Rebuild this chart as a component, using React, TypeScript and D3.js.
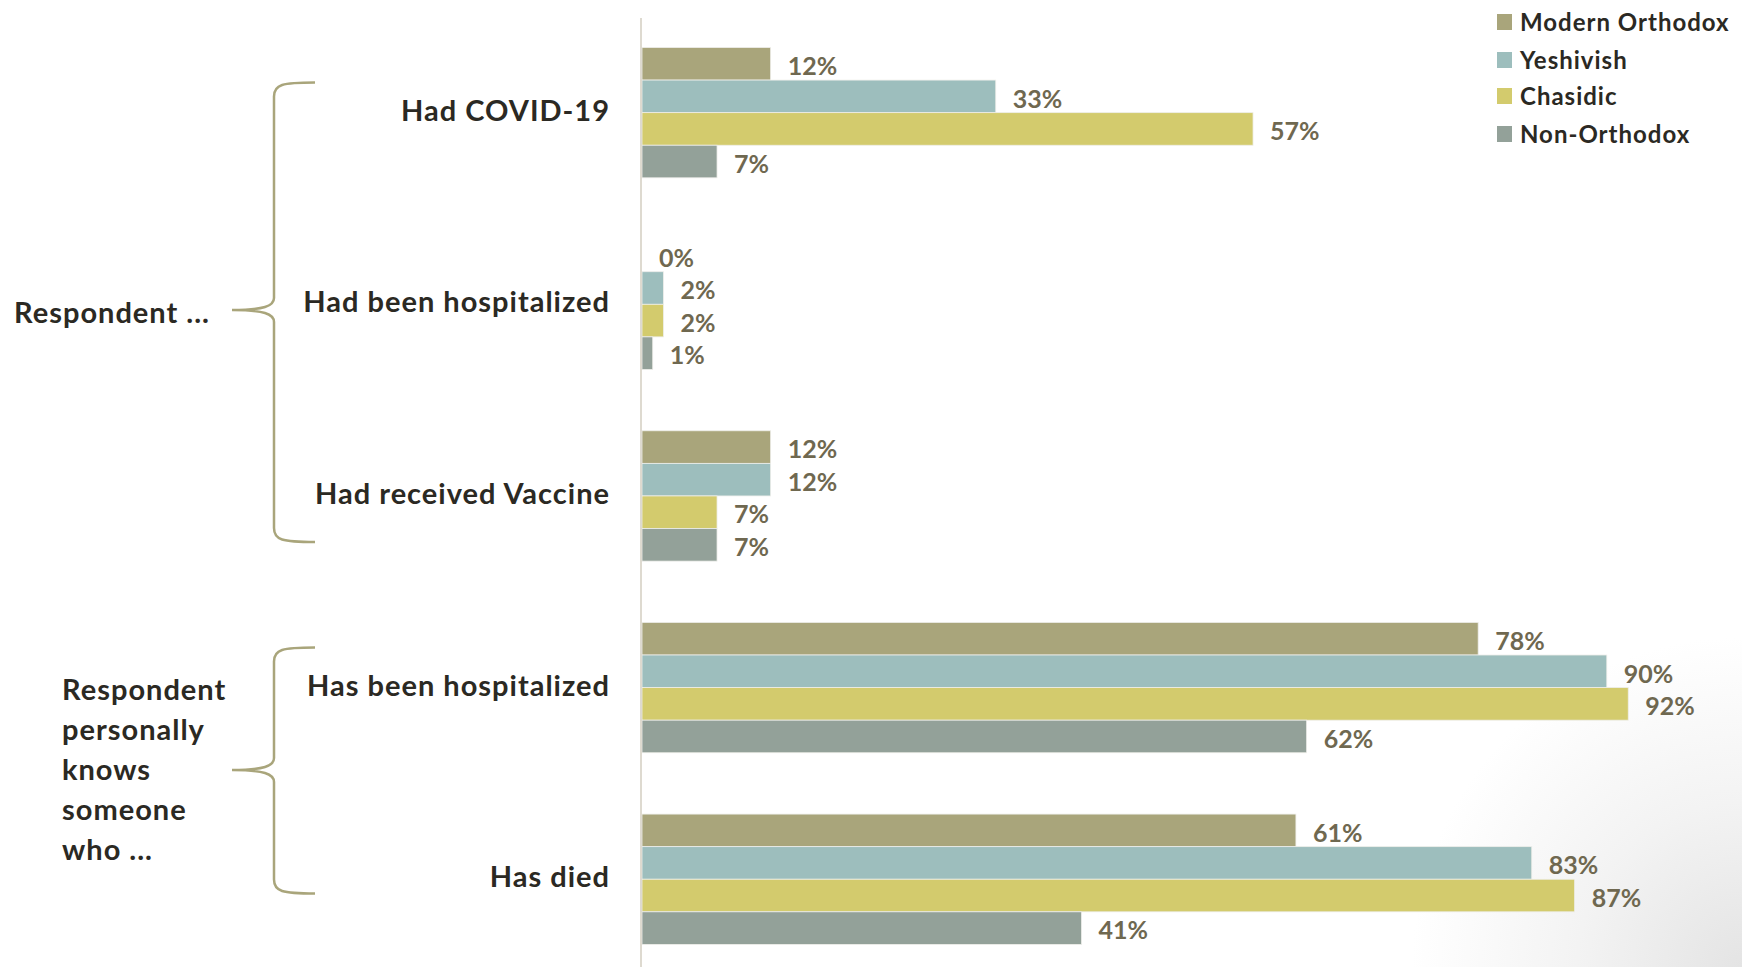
import React from "react";
import * as d3 from "d3";

const categories = [
  "Had COVID-19",
  "Had been hospitalized",
  "Had received Vaccine",
  "Has been hospitalized",
  "Has died",
];
const seriesNames = ["Modern Orthodox", "Yeshivish", "Chasidic", "Non-Orthodox"];
const modernOrthodox = [12, 0, 12, 78, 61];
const yeshivish = [33, 2, 12, 90, 83];
const chasidic = [57, 2, 7, 92, 87];
const nonOrthodox = [7, 1, 7, 62, 41];
const seriesColors = ["#a9a57b", "#9dbebd", "#d3cb6d", "#93a199"];
const groupLabel1 = "Respondent ...";
const groupLabel2 = ["Respondent", "personally", "knows", "someone", "who ..."];

const W = 1742;
const H = 967;
const FONT = "Lato, 'Open Sans', sans-serif";

export default function App() {
  const seriesValues = [modernOrthodox, yeshivish, chasidic, nonOrthodox];
  const x = d3.scaleLinear().domain([0, 100]).range([642, 1714]);
  const y = d3
    .scaleBand<string>()
    .domain(categories)
    .range([47.5, 944.4])
    .paddingInner(0.32)
    .paddingOuter(0);
  const yInner = d3
    .scaleBand<string>()
    .domain(seriesNames)
    .range([0, y.bandwidth()])
    .padding(0);

  const brace = (top: number, mid: number, bottom: number) => {
    const xr = 315;
    const xl = 274;
    const xp = 232;
    return `M${xr},${top} C${xl + 8},${top} ${xl},${top + 2} ${xl},${top + 14}
      L${xl},${mid - 12} C${xl},${mid - 4} ${xl - 10},${mid} ${xp},${mid}
      C${xl - 10},${mid} ${xl},${mid + 4} ${xl},${mid + 12}
      L${xl},${bottom - 14} C${xl},${bottom - 2} ${xl + 8},${bottom} ${xr},${bottom}`;
  };

  const legendY = [22, 60, 96, 134];

  return (
    <svg
      width={W}
      height={H}
      style={{ position: "absolute", left: 0, top: 0, display: "block" }}
    >
      <defs>
        <radialGradient id="corner" cx={W} cy={H} r={330} gradientUnits="userSpaceOnUse">
          <stop offset="0" stopColor="#e4e4e4" />
          <stop offset="0.5" stopColor="#f3f3f3" />
          <stop offset="1" stopColor="#ffffff" />
        </radialGradient>
      </defs>
      <rect x={0} y={0} width={W} height={H} fill="url(#corner)" />

      {/* bars */}
      {categories.map((c, ci) => (
        <g key={c} transform={`translate(0,${y(c)})`}>
          {seriesNames.map((s, si) => {
            const v = seriesValues[si][ci];
            const by = yInner(s)!;
            const bh = yInner.bandwidth();
            return (
              <g key={s}>
                {v > 0 && (
                  <rect
                    x={x(0)}
                    y={by}
                    width={x(v) - x(0)}
                    height={bh}
                    fill={seriesColors[si]}
                    stroke="#eeeeea"
                    strokeWidth={0.8}
                  />
                )}
                <text
                  x={x(v) + 17}
                  y={by + bh / 2}
                  dy="0.45em"
                  fontFamily={FONT}
                  fontWeight={700}
                  fontSize={25}
                  fill="#6f6850"
                >
                  {`${v}%`}
                </text>
              </g>
            );
          })}
        </g>
      ))}

      {/* axis line */}
      <line x1={641} x2={641} y1={18} y2={H} stroke="#dedad0" strokeWidth={2} />

      {/* category labels */}
      {categories.map((c) => (
        <text
          key={c}
          x={610}
          y={y(c)! + y.bandwidth() / 2}
          dy="0.28em"
          textAnchor="end"
          fontFamily={FONT}
          fontWeight={700}
          fontSize={29}
          letterSpacing={1}
          fill="#2b2923"
        >
          {c}
        </text>
      ))}

      {/* braces */}
      <path
        d={brace(82.5, 310, 542)}
        fill="none"
        stroke="#a9a57b"
        strokeWidth={2.5}
      />
      <path
        d={brace(647.5, 770, 893.5)}
        fill="none"
        stroke="#a9a57b"
        strokeWidth={2.5}
      />

      {/* group labels */}
      <text
        x={14}
        y={323}
        fontFamily={FONT}
        fontWeight={700}
        fontSize={29}
        letterSpacing={1}
        fill="#2b2923"
      >
        {groupLabel1}
      </text>
      {groupLabel2.map((t, i) => (
        <text
          key={t}
          x={62}
          y={700 + i * 40}
          fontFamily={FONT}
          fontWeight={700}
          fontSize={29}
          letterSpacing={1}
          fill="#2b2923"
        >
          {t}
        </text>
      ))}

      {/* legend */}
      {seriesNames.map((s, i) => (
        <g key={s}>
          <rect
            x={1497}
            y={legendY[i] - 8}
            width={15}
            height={16}
            fill={seriesColors[i]}
          />
          <text
            x={1520}
            y={legendY[i]}
            dy="0.36em"
            fontFamily={FONT}
            fontWeight={700}
            fontSize={24}
            letterSpacing={1}
            fill="#2b2923"
          >
            {s}
          </text>
        </g>
      ))}
    </svg>
  );
}
